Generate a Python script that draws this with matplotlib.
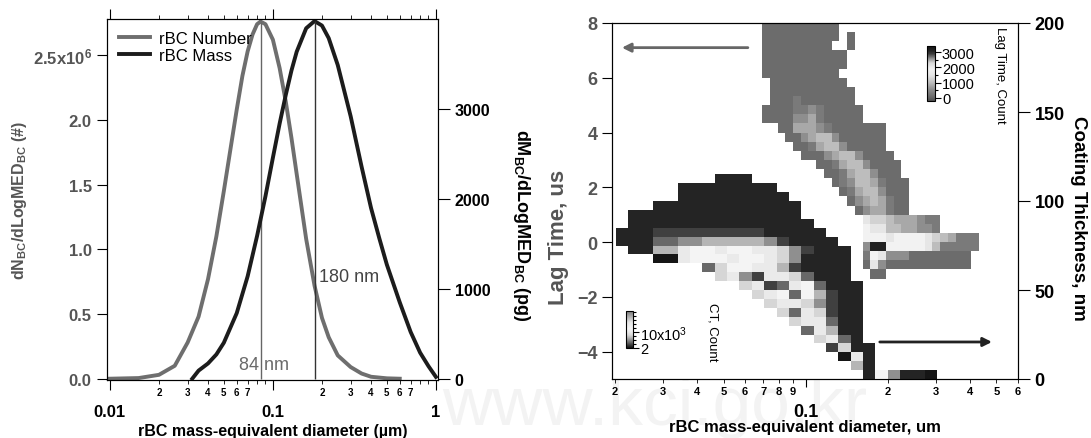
import numpy as np
import matplotlib
matplotlib.use("Agg")
import matplotlib.pyplot as plt
from matplotlib.colors import LinearSegmentedColormap, Normalize
from matplotlib.ticker import FixedLocator, LogLocator, FuncFormatter, MultipleLocator
from matplotlib.lines import Line2D

plt.rcParams['font.family'] = ['Liberation Sans', 'DejaVu Sans']
plt.rcParams['font.weight'] = 'bold'
plt.rcParams['axes.labelweight'] = 'bold'
plt.rcParams['mathtext.default'] = 'regular'

# ---------------- left panel data ----------------
num_diam = [0.010, 0.015, 0.020, 0.025, 0.030, 0.035, 0.040, 0.045, 0.050, 0.055,
            0.060, 0.065, 0.070, 0.075, 0.080, 0.084, 0.090, 0.100, 0.110, 0.120,
            0.130, 0.140, 0.160, 0.180, 0.200, 0.220, 0.250, 0.300, 0.350, 0.400,
            0.500, 0.600]
num_dndlog = [0.0, 0.005, 0.03, 0.10, 0.28, 0.48, 0.77, 1.10, 1.45, 1.78,
              2.08, 2.34, 2.53, 2.66, 2.74, 2.76, 2.74, 2.62, 2.40, 2.14,
              1.86, 1.58, 1.08, 0.72, 0.47, 0.32, 0.18, 0.09, 0.04, 0.015,
              0.003, 0.0]          # x 1e6
mass_diam = [0.032, 0.035, 0.040, 0.045, 0.050, 0.060, 0.070, 0.080, 0.090, 0.100,
             0.110, 0.120, 0.130, 0.140, 0.160, 0.180, 0.200, 0.220, 0.250, 0.300,
             0.350, 0.400, 0.450, 0.500, 0.600, 0.700, 0.800, 0.900, 1.000]
mass_dmdlog = [0, 90, 170, 270, 400, 730, 1140, 1590, 2030, 2460,
               2840, 3160, 3430, 3640, 3900, 3980, 3930, 3790, 3490, 2920,
               2360, 1900, 1560, 1270, 850, 520, 290, 140, 20]   # pg
num_mode = 0.084
mass_mode = 0.18
num_yticks = [0, 0.5, 1.0, 1.5, 2.0, 2.5]
num_yticklabels = ['0.0', '0.5', '1.0', '1.5', '2.0', '2.5x10$^{6}$']
mass_yticks = [0, 1000, 2000, 3000]
mass_per_number = 1440   # right axis scale relative to left axis

# ---------------- right panel data ----------------
# lag time histogram, rows from lag = 8 us downward, digit = count level
lag_rows = [
    "......0000000000",
    "......0000000000.0",
    "......000000000..0",
    "......00000000000",
    "......00000000000",
    "......0000000000",
    ".......0000000000",
    ".......00000000000",
    ".......00010000000",
    "......0000112100000",
    "......0000223100000",
    "........00333210000000",
    ".........0023442000000",
    "..........001344200000",
    "...........000234420000",
    ".............00134420000",
    "..............0013442000",
    "...............0124431000",
    "................013442000",
    ".................02343100",
    "..................0233100",
    "...................6554333211",
    "...................7664433221",
    "...................777677776543111",
    "...................299777776411111",
    "...................17622200000000",
    "...................06200000000000",
    "....................00",
]
lag_counts = [100, 300, 550, 800, 1000, 1250, 1500, 1900, 2600, 3100]
lag_logd0, lag_dlogd = -1.330, 0.02837
lag_top, lag_step = 8.0, 1.0 / 3.0

# coating thickness histogram, rows from the top (110-115 nm) down to 0-5 nm
ct_rows = [
    "........111",
    ".....11111111",
    ".....111111111",
    "...111111111111",
    ".11111111111111",
    ".111111111111111",
    "11122222222211111",
    "111334455555421111",
    ".115578878877642111",
    "...0078887887641111",
    ".......368877521111",
    "........67427763111",
    "..........6723783111",
    "...........678385211",
    "............67764211",
    ".............6376211",
    "..............677311",
    "...............37511",
    "................6731",
    ".................2611",
    "..................071",
    "...................51",
    "....................184110",
]
ct_counts = [200, 900, 2000, 3500, 5000, 6500, 8000, 10000, 12000, 20000]
ct_logd0, ct_dlogd = -1.6953, 0.04527
ct_step = 5.0

lag_arrow = ((0.0614, 7.1), (0.0212, 7.1))
ct_arrow = ((0.187, 20.8), (0.482, 20.8))


def rows_to_grid(rows, counts):
    ncol = max(len(r) for r in rows)
    grid = np.full((len(rows), ncol), np.nan)
    for i, r in enumerate(rows):
        for j, ch in enumerate(r):
            if ch != '.':
                grid[i, j] = counts[int(ch)]
    return grid


def digit_fmt(limit):
    def fmt(v, pos):
        d = int(round(v / 10 ** np.floor(np.log10(v) + 1e-9)))
        return str(d) if d <= limit else ''
    return fmt


def cmap_from(nodes, vmin, vmax):
    return LinearSegmentedColormap.from_list(
        'c', [((v - vmin) / (vmax - vmin), c) for v, c in nodes])


lag_vmin, lag_vmax = -200, 3400
lag_cmap = cmap_from([(-200, '#4e4e4e'), (0, '#626262'), (100, '#6c6c6c'),
                      (300, '#7a7a7a'), (550, '#8e8e8e'), (800, '#a8a8a8'),
                      (1000, '#bdbdbd'), (1250, '#d2d2d2'), (1500, '#e6e6e6'),
                      (1900, '#f2f2f2'), (2300, '#d8d8d8'), (2600, '#8a8a8a'),
                      (2900, '#3a3a3a'), (3100, '#222222'), (3400, '#141414')],
                     lag_vmin, lag_vmax)
ct_vmin, ct_vmax = 2, 23000
ct_cmap = cmap_from([(2, '#111111'), (200, '#151515'), (900, '#262626'),
                     (2000, '#404040'), (3500, '#6a6a6a'), (5000, '#909090'),
                     (6500, '#b5b5b5'), (8000, '#d6d6d6'), (10000, '#eaeaea'),
                     (12000, '#f4f4f4'), (16000, '#e6e6e6'), (20000, '#a5a5a5'),
                     (23000, '#777777')], ct_vmin, ct_vmax)

W, H = 1091, 439
fig = plt.figure(figsize=(W / 100, H / 100), dpi=100)
fig.text(0.60, 0.0, 'www.kci.go.kr', fontsize=50, color='#f3f3f3',
         ha='center', va='bottom', fontweight='normal', zorder=-5)

gray = '#555555'
num_color = '#6e6e6e'
mass_color = '#1c1c1c'

# ================= left panel =================
ax1 = fig.add_axes([107 / W, 1 - 381 / H, 331 / W, 361 / H])
ax1.patch.set_alpha(0)
ax1.plot(num_diam, num_dndlog, color=num_color, lw=2.8)
ax1.vlines(num_mode, 0, max(num_dndlog), color='#666666', lw=1)
ax1.set_xscale('log')
ax1.set_xlim(0.0096, 1.03)
ax1.set_ylim(-0.01, 2.78)
ax1r = ax1.twinx()
ax1r.plot(mass_diam, mass_dmdlog, color=mass_color, lw=2.8)
ax1r.vlines(mass_mode, 0, max(mass_dmdlog), color='#333333', lw=1)
ax1r.set_ylim(-0.01 * mass_per_number, 2.78 * mass_per_number)

ax1.text(num_mode * 1.05, 0.11, '84 nm', ha='center', va='center',
         fontsize=13, color='#6a6a6a', fontweight='normal')
ax1.text(mass_mode * 1.06, 0.79, '180 nm', ha='left', va='center',
         fontsize=13, color='#444444', fontweight='normal')

ax1.xaxis.set_major_locator(FixedLocator([0.01, 0.1, 1]))
ax1.xaxis.set_major_formatter(FuncFormatter(lambda v, p: {0.01: '0.01', 0.1: '0.1', 1: '1'}.get(round(v, 3), '')))
ax1.xaxis.set_minor_locator(LogLocator(base=10, subs=np.arange(2, 10)))
ax1.xaxis.set_minor_formatter(FuncFormatter(digit_fmt(7)))
ax1.tick_params(axis='x', which='major', direction='out', length=7, pad=10,
                labelsize=12, top=True)
ax1.tick_params(axis='x', which='minor', direction='out', length=3, pad=2,
                labelsize=7, top=True)
ax1.set_yticks(num_yticks)
ax1.set_yticklabels(num_yticklabels)
ax1.tick_params(axis='y', direction='out', length=7.5, labelsize=12,
                labelcolor=gray)
ax1r.set_yticks(mass_yticks)
ax1r.tick_params(axis='y', direction='out', length=8.5, labelsize=11.5)

ax1.set_xlabel('rBC mass-equivalent diameter (µm)', fontsize=11.5)
ax1.xaxis.set_label_coords(0.5, -0.118)
ax1.set_ylabel('dN$_{BC}$/dLogMED$_{BC}$ (#)', fontsize=11.5, color=gray)
ax1.yaxis.set_label_coords(-0.235, 0.5)
ax1r.set_ylabel('dM$_{BC}$/dLogMED$_{BC}$ (pg)', fontsize=13, rotation=270,
                va='bottom')
ax1r.yaxis.set_label_coords(1.222, 0.43)

handles = [Line2D([], [], color=num_color, lw=2.8),
           Line2D([], [], color=mass_color, lw=2.8)]
ax1r.legend(handles, ['rBC Number', 'rBC Mass'], loc='upper left',
            frameon=False, handlelength=1.9, handletextpad=0.5,
            labelspacing=0.15, borderaxespad=0.3,
            prop={'size': 12, 'weight': 'normal'})

# ================= right panel =================
ax3 = fig.add_axes([612 / W, 1 - 380 / H, 406 / W, 356 / H])
ax3.set_xscale('log')
lag_grid = rows_to_grid(lag_rows, lag_counts)
lag_x = 10 ** (lag_logd0 + lag_dlogd * np.arange(lag_grid.shape[1] + 1))
lag_y = lag_top - lag_step * np.arange(lag_grid.shape[0] + 1)
lag_mesh = ax3.pcolormesh(lag_x, lag_y[::-1], lag_grid[::-1], cmap=lag_cmap,
                          norm=Normalize(lag_vmin, lag_vmax),
                          antialiased=False, edgecolors='none')
ax3.set_xlim(0.0195, 0.6005)
ax3.set_ylim(-5, 8)
ax4 = ax3.twinx()
ct_grid = rows_to_grid(ct_rows, ct_counts)[::-1]
ct_x = 10 ** (ct_logd0 + ct_dlogd * np.arange(ct_grid.shape[1] + 1))
ct_y = ct_step * np.arange(ct_grid.shape[0] + 1)
ct_mesh = ax4.pcolormesh(ct_x, ct_y, ct_grid, cmap=ct_cmap,
                         norm=Normalize(ct_vmin, ct_vmax),
                         antialiased=False, edgecolors='none')
ax4.set_ylim(0, 200)

ax3.annotate('', xy=lag_arrow[1], xytext=lag_arrow[0],
             arrowprops=dict(arrowstyle='-|>', color='#666666', lw=2,
                             mutation_scale=13, shrinkA=0, shrinkB=0))
ax4.annotate('', xy=ct_arrow[1], xytext=ct_arrow[0],
             arrowprops=dict(arrowstyle='-|>', color='#222222', lw=2,
                             mutation_scale=13, shrinkA=0, shrinkB=0))

ax3.xaxis.set_major_locator(FixedLocator([0.1]))
ax3.xaxis.set_major_formatter(FuncFormatter(lambda v, p: '0.1'))
ax3.xaxis.set_minor_locator(LogLocator(base=10, subs=np.arange(2, 10)))
ax3.xaxis.set_minor_formatter(FuncFormatter(digit_fmt(9)))
ax3.tick_params(axis='x', which='major', direction='out', length=6, pad=11,
                labelsize=13)
ax3.tick_params(axis='x', which='minor', direction='out', length=3, pad=2,
                labelsize=8)
ax3.set_yticks(range(-4, 9, 2))
ax3.tick_params(axis='y', direction='out', length=7, labelsize=13,
                labelcolor=gray)
ax4.set_yticks(range(0, 201, 50))
ax4.tick_params(axis='y', direction='out', length=8.5, labelsize=13)

ax3.set_xlabel('rBC mass-equivalent diameter, um', fontsize=12)
ax3.xaxis.set_label_coords(0.475, -0.112)
ax3.set_ylabel('Lag Time, us', fontsize=16, color=gray)
ax3.yaxis.set_label_coords(-0.105, 0.40)
ax4.set_ylabel('Coating Thickness, nm', fontsize=13.5, rotation=270, va='bottom')
ax4.yaxis.set_label_coords(1.128, 0.455)

# colour scales
cax1 = fig.add_axes([927 / W, 1 - 102 / H, 8 / W, 55 / H])
cb1 = fig.colorbar(lag_mesh, cax=cax1)
cb1.set_ticks([0, 1000, 2000, 3000])
cb1.ax.yaxis.set_minor_locator(MultipleLocator(500))
cb1.ax.tick_params(which='major', length=4, width=0.8, labelsize=10.5, pad=1)
cb1.ax.tick_params(which='minor', length=2.5, width=0.8)
for t in cb1.ax.get_yticklabels():
    t.set_fontweight('normal')
cb1.outline.set_linewidth(0.8)
fig.text(1000 / W, 1 - 75 / H, 'Lag Time, Count', rotation=270, ha='center',
         va='center', fontsize=9.5, fontweight='normal')

cax2 = fig.add_axes([626 / W, 1 - 349 / H, 7 / W, 37 / H])
cb2 = fig.colorbar(ct_mesh, cax=cax2)
cb2.set_ticks([2, 10000])
cb2.set_ticklabels(['2', '10x10$^{3}$'])
cb2.ax.yaxis.set_minor_locator(MultipleLocator(2500))
cb2.ax.tick_params(which='major', length=4, width=0.8, labelsize=10.5, pad=1)
cb2.ax.tick_params(which='minor', length=2.5, width=0.8)
for t in cb2.ax.get_yticklabels():
    t.set_fontweight('normal')
cb2.outline.set_linewidth(0.8)
fig.text(713 / W, 1 - 332 / H, 'CT, Count', rotation=270, ha='center',
         va='center', fontsize=9.5, fontweight='normal')

fig.savefig('out.png', dpi=100)
